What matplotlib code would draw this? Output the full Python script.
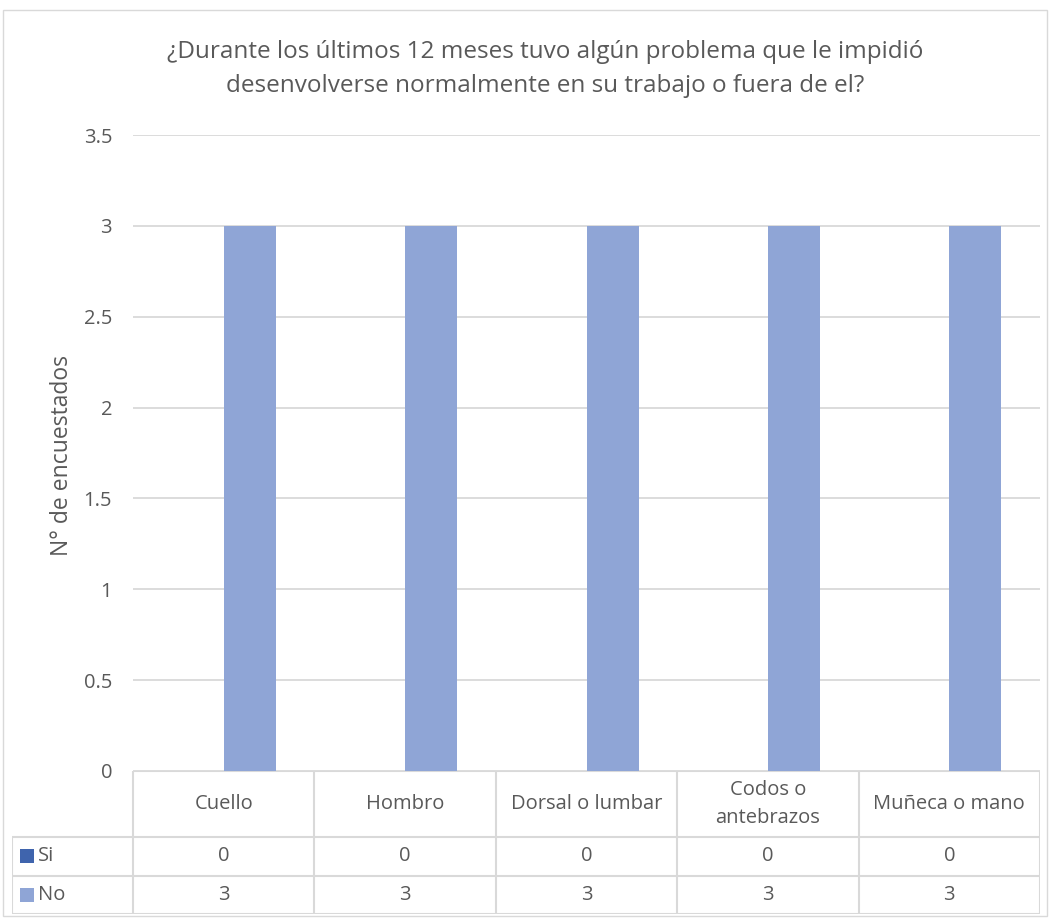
import numpy as np
import matplotlib.pyplot as plt
from matplotlib.patches import Rectangle

# data
categories = ["Cuello", "Hombro", "Dorsal o lumbar", "Codos o\nantebrazos", "Muñeca o mano"]
series_names = ["Si", "No"]
si_values = [0, 0, 0, 0, 0]
no_values = [3, 3, 3, 3, 3]
yticks = [0, 0.5, 1, 1.5, 2, 2.5, 3, 3.5]
ytick_labels = ["0", "0.5", "1", "1.5", "2", "2.5", "3", "3.5"]

title = "¿Durante los últimos 12 meses tuvo algún problema que le impidió\ndesenvolverse normalmente en su trabajo o fuera de el?"
ylabel = "N° de encuestados"

SI_COLOR = "#3F64AD"
NO_COLOR = "#8FA5D6"
GRID = "#D9D9D9"
TXT = "#595959"

plt.rcParams["font.family"] = ["Open Sans", "DejaVu Sans"]

W, H = 1050, 919
fig = plt.figure(figsize=(W / 100, H / 100), dpi=100)

# outer chart border
fig.patches.append(Rectangle((3 / W, 1 - 916 / H), 1044 / W, 906 / H,
                             transform=fig.transFigure, fill=False,
                             edgecolor=GRID, linewidth=1))

# plot area
left, right = 133 / W, 1040 / W
bottom, top = 1 - 771 / H, 1 - 135 / H
ax = fig.add_axes([left, bottom, right - left, top - bottom])

n = len(categories)
x = np.arange(n) + 0.5
bw = 52 / 181.4
ax.bar(x - bw / 2, si_values, width=bw, color=SI_COLOR, zorder=3)
ax.bar(x + bw / 2, no_values, width=bw, color=NO_COLOR, zorder=3)

ax.set_xlim(0, n)
ax.set_ylim(0, 3.5)
ax.set_yticks(yticks)
ax.set_yticklabels(ytick_labels)
ax.set_xticks([])
ax.yaxis.grid(True, color=GRID, linewidth=1.3)
ax.set_axisbelow(True)
for s in ax.spines.values():
    s.set_visible(False)
ax.tick_params(axis="y", length=0, pad=15, labelsize=14.5, labelcolor=TXT)

fig.text(62 / W, 1 - 455 / H, ylabel, rotation=90, ha="center", va="center",
         fontsize=16.5, color=TXT)

fig.text(0.519, 1 - 69 / H, title, ha="center", va="center",
         fontsize=17.5, color=TXT, linespacing=1.55)

# data table below the plot
tl, tr = 12 / W, 1040 / W
tb, tt = 1 - 914 / H, 1 - 771 / H
tax = fig.add_axes([tl, tb, tr - tl, tt - tb])
left_col = -121 / 181.4
tax.set_xlim(left_col, n)
h_head, h_row = 66, 38.5
total = h_head + 2 * h_row
tax.set_ylim(total, 0)
tax.axis("off")

lc = dict(color=GRID, linewidth=1.5, solid_capstyle="butt")
# horizontal lines
tax.plot([0, n], [0, 0], **lc)
for yy in [h_head, h_head + h_row, total]:
    tax.plot([left_col, n], [yy, yy], **lc)
# vertical lines
for k in range(n + 1):
    tax.plot([k, k], [0, total], **lc)
tax.plot([left_col, left_col], [h_head, total], **lc)

for i, cat in enumerate(categories):
    tax.text(i + 0.5, h_head / 2, cat, ha="center", va="center",
             fontsize=14.5, color=TXT, linespacing=1.5)
rows = [si_values, no_values]
colors = [SI_COLOR, NO_COLOR]
for r, (name, vals, c) in enumerate(zip(series_names, rows, colors)):
    yc = h_head + h_row * (r + 0.5)
    sq = 14 / 181.4
    tax.add_patch(Rectangle((left_col + 8 / 181.4, yc - 7), sq, 14,
                            facecolor=c, edgecolor="none"))
    tax.text(left_col + 26 / 181.4, yc, name, ha="left", va="center",
             fontsize=14.5, color=TXT)
    for i, v in enumerate(vals):
        tax.text(i + 0.5, yc, str(v), ha="center", va="center",
                 fontsize=14.5, color=TXT)

fig.savefig("out.png", dpi=100, facecolor="white")
